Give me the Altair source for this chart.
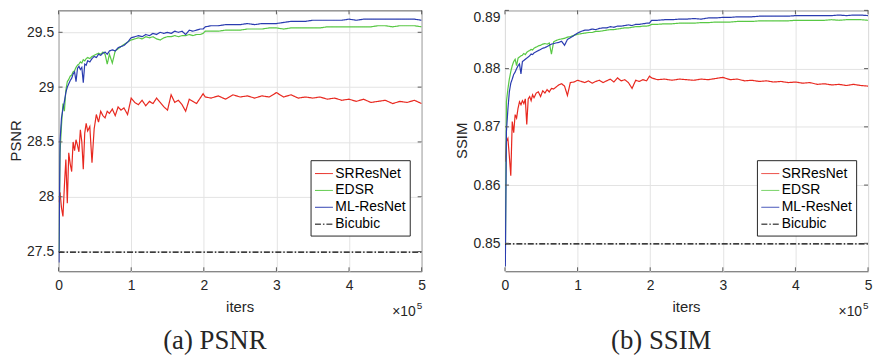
import altair as alt
import pandas as pd

# ---------------- data ----------------
ITERS_K = [0.5, 2, 4, 6, 8, 10, 12, 14, 16, 18, 20, 22, 24, 26, 28, 30, 32, 34, 36, 38, 40,
           43, 46, 49, 52, 55, 58, 61, 64, 67, 70, 74, 78, 82, 86, 90, 95, 100,
           105, 110, 115, 120, 125, 130, 135, 140, 145, 150, 155, 160, 165, 170, 175, 180, 185, 190, 195,
           199, 202,
           210, 220, 230, 240, 250, 260, 270, 280, 290, 300, 310, 320, 330, 340, 350, 360, 370, 380, 390, 400,
           410, 420, 430, 440, 450, 460, 470, 480, 490, 500]

SERIES = ["SRResNet", "EDSR", "ML-ResNet", "Bicubic"]
COLORS = ["#e8281f", "#58c844", "#2a3cb0", "#000000"]

PSNR_SRRESNET = [27.95, 28.04, 27.90, 27.82, 28.10, 28.34, 27.94, 28.40, 28.30, 28.23, 28.50, 28.42, 28.52, 28.47,
                 28.41, 28.61, 28.50, 28.25, 28.58, 28.67, 28.60, 28.64, 28.31, 28.62, 28.75, 28.68, 28.78, 28.74,
                 28.72, 28.78, 28.76, 28.80, 28.74, 28.82, 28.79, 28.81, 28.75, 28.90,
                 28.86, 28.84, 28.88, 28.83, 28.87, 28.85, 28.90, 28.86, 28.82, 28.79, 28.93, 28.86, 28.88, 28.84,
                 28.78, 28.89, 28.87, 28.85, 28.90, 28.94, 28.91,
                 28.90, 28.92, 28.89, 28.93, 28.91, 28.92, 28.90, 28.92, 28.91, 28.95, 28.91, 28.93, 28.90, 28.91,
                 28.90, 28.91, 28.89, 28.90, 28.88, 28.89, 28.87, 28.89, 28.86, 28.87, 28.88, 28.85, 28.87, 28.86,
                 28.88, 28.85]
PSNR_EDSR = [27.50, 28.40, 28.65, 28.85, 28.78, 28.97, 29.05, 29.07, 29.10, 29.11, 29.14, 29.15, 29.18, 29.20,
             29.21, 29.23, 29.22, 29.25, 29.24, 29.26, 29.27, 29.26, 29.28, 29.29, 29.30, 29.31, 29.30, 29.32,
             29.30, 29.21, 29.30, 29.22, 29.33, 29.35, 29.37, 29.39, 29.41, 29.43,
             29.44, 29.45, 29.44, 29.46, 29.45, 29.46, 29.44, 29.43, 29.45, 29.46, 29.46, 29.47, 29.46, 29.47,
             29.47, 29.48, 29.47, 29.48, 29.48, 29.49, 29.51,
             29.51, 29.51, 29.52, 29.52, 29.52, 29.53, 29.53, 29.53, 29.54, 29.54, 29.53, 29.54, 29.54, 29.54,
             29.54, 29.54, 29.55, 29.55, 29.55, 29.55, 29.55, 29.55, 29.55, 29.56, 29.56, 29.55, 29.56, 29.56,
             29.56, 29.55]
PSNR_MLRESNET = [27.40, 28.51, 28.72, 28.80, 28.87, 28.95, 29.00, 29.03, 29.06, 29.08, 29.12, 29.14, 29.05, 29.17,
                 29.19, 29.16, 29.18, 29.04, 29.21, 29.20, 29.24, 29.23, 29.26, 29.28, 29.27, 29.30, 29.29, 29.31,
                 29.32, 29.30, 29.33, 29.34, 29.33, 29.36, 29.37, 29.38, 29.41, 29.45,
                 29.46, 29.47, 29.46, 29.48, 29.47, 29.49, 29.48, 29.50, 29.49, 29.50, 29.49, 29.51, 29.50, 29.51,
                 29.48, 29.52, 29.51, 29.52, 29.53, 29.53, 29.55,
                 29.56, 29.56, 29.57, 29.57, 29.57, 29.58, 29.57, 29.58, 29.58, 29.58, 29.59, 29.60, 29.60, 29.60,
                 29.61, 29.61, 29.61, 29.61, 29.61, 29.62, 29.61, 29.62, 29.62, 29.62, 29.62, 29.62, 29.62, 29.62,
                 29.62, 29.61]
PSNR_BICUBIC = 27.495

SSIM_SRRESNET = [0.8640, 0.8675, 0.8680, 0.8650, 0.8616, 0.8709, 0.8690, 0.8721, 0.8715, 0.8732, 0.8743, 0.8738,
                 0.8745, 0.8740, 0.8748, 0.8704, 0.8748, 0.8752, 0.8745, 0.8755, 0.8750, 0.8758, 0.8760, 0.8752,
                 0.8762, 0.8758, 0.8764, 0.8760, 0.8766, 0.8765, 0.8768, 0.8772, 0.8774, 0.8770, 0.8754, 0.8776,
                 0.8777, 0.8780,
                 0.8778, 0.8776, 0.8779, 0.8775, 0.8778, 0.8780, 0.8776, 0.8779, 0.8782, 0.8777, 0.8784, 0.8779,
                 0.8781, 0.8776, 0.8766, 0.8780, 0.8778, 0.8781, 0.8779, 0.8787, 0.8784,
                 0.8781, 0.8782, 0.8780, 0.8782, 0.8781, 0.8780, 0.8782, 0.8781, 0.8783, 0.8785, 0.8781, 0.8782,
                 0.8779, 0.8780, 0.8778, 0.8779, 0.8777, 0.8778, 0.8776, 0.8777, 0.8775, 0.8776, 0.8773, 0.8774,
                 0.8772, 0.8773, 0.8771, 0.8773, 0.8771, 0.8770]
SSIM_EDSR = [0.8470, 0.8743, 0.8765, 0.8782, 0.8795, 0.8805, 0.8812, 0.8816, 0.8805, 0.8818, 0.8820, 0.8822,
             0.8823, 0.8826, 0.8824, 0.8828, 0.8830, 0.8831, 0.8833, 0.8832, 0.8835, 0.8837, 0.8839, 0.8840,
             0.8842, 0.8843, 0.8842, 0.8844, 0.8825, 0.8846, 0.8848, 0.8850, 0.8851, 0.8852, 0.8854, 0.8855,
             0.8857, 0.8859,
             0.8860, 0.8861, 0.8862, 0.8862, 0.8864, 0.8864, 0.8865, 0.8866, 0.8867, 0.8867, 0.8868, 0.8869,
             0.8870, 0.8870, 0.8871, 0.8872, 0.8872, 0.8873, 0.8873, 0.8874, 0.8876,
             0.8876, 0.8877, 0.8877, 0.8878, 0.8878, 0.8878, 0.8879, 0.8879, 0.8880, 0.8880, 0.8880, 0.8881,
             0.8881, 0.8881, 0.8882, 0.8882, 0.8882, 0.8882, 0.8882, 0.8883, 0.8883, 0.8883, 0.8883, 0.8883,
             0.8884, 0.8883, 0.8884, 0.8884, 0.8884, 0.8883]
SSIM_MLRESNET = [0.8460, 0.8692, 0.8730, 0.8760, 0.8775, 0.8782, 0.8790, 0.8794, 0.8800, 0.8805, 0.8808, 0.8791,
                 0.8812, 0.8814, 0.8816, 0.8818, 0.8820, 0.8822, 0.8825, 0.8824, 0.8827, 0.8829, 0.8831, 0.8833,
                 0.8835, 0.8836, 0.8838, 0.8840, 0.8842, 0.8843, 0.8844, 0.8845, 0.8847, 0.8840, 0.8850, 0.8853,
                 0.8857, 0.8861,
                 0.8864, 0.8866, 0.8866, 0.8868, 0.8867, 0.8869, 0.8870, 0.8870, 0.8872, 0.8871, 0.8873, 0.8873,
                 0.8874, 0.8875, 0.8874, 0.8876, 0.8876, 0.8877, 0.8878, 0.8878, 0.8883,
                 0.8883, 0.8884, 0.8884, 0.8885, 0.8885, 0.8886, 0.8885, 0.8887, 0.8887, 0.8888, 0.8888, 0.8889,
                 0.8889, 0.8889, 0.8890, 0.8890, 0.8890, 0.8890, 0.8890, 0.8891, 0.8891, 0.8891, 0.8891, 0.8891,
                 0.8891, 0.8892, 0.8891, 0.8892, 0.8892, 0.8891]
SSIM_BICUBIC = 0.8499

X_TICKS = [0, 100000, 200000, 300000, 400000, 500000]
X_DOMAIN = [0, 500000]
PSNR_TICKS = [27.5, 28, 28.5, 29, 29.5]
SSIM_TICKS = [0.85, 0.86, 0.87, 0.88, 0.89]
PSNR_DOMAIN = [27.32, 29.70]
SSIM_DOMAIN = [0.8452, 0.8900]

X_TITLE = "iters"
X_EXP_BASE = "×10"
X_EXP = "5"
Y_TITLES = ["PSNR", "SSIM"]
CAPTIONS = ["(a) PSNR", "(b) SSIM"]

# ---------------- layout ----------------
W, H = 366, 263
AX = "#5a5a5a"
TXT = "#262626"
SANS = "Liberation Sans"
SERIF = "Liberation Serif"


def text_layer(s, x, y, size, font=SANS, align="center", baseline="middle", angle=0):
    return alt.Chart(pd.DataFrame({"t": [s]})).mark_text(
        align=align, baseline=baseline, fontSize=size, font=font, angle=angle, color=TXT
    ).encode(x=alt.value(x), y=alt.value(y), text="t:N")


def panel(vals, bic, yticks, ydomain, ytitle, caption, flush_top):
    rows = []
    for name, arr in zip(SERIES[:3], vals):
        for it, v in zip(ITERS_K, arr):
            rows.append({"iters": it * 1000, "value": v, "series": name})
    for it in X_DOMAIN:
        rows.append({"iters": it, "value": bic, "series": "Bicubic"})
    df = pd.DataFrame(rows)

    xs = alt.Scale(domain=X_DOMAIN, nice=False, zero=False)
    ys = alt.Scale(domain=ydomain, nice=False, zero=False)
    xaxis = alt.Axis(values=X_TICKS, labelExpr="datum.value / 100000", title=None,
                     labelFlush=False, labelPadding=7)
    yaxis = alt.Axis(values=yticks, format="~g", title=None, labelFlush=flush_top, labelPadding=5)

    leg = alt.Legend(title=None, orient="none", legendX=254, legendY=151, direction="vertical",
                     strokeColor="#262626", fillColor="white", padding=4, cornerRadius=0,
                     labelFont=SANS, labelFontSize=14, labelColor="#000000", labelOffset=2,
                     symbolType="stroke", symbolSize=324, symbolStrokeWidth=1, rowPadding=0)

    lines = alt.Chart(df).mark_line(strokeWidth=1.2, clip=True).encode(
        x=alt.X("iters:Q", scale=xs, axis=xaxis),
        y=alt.Y("value:Q", scale=ys, axis=yaxis),
        color=alt.Color("series:N", scale=alt.Scale(domain=SERIES, range=COLORS), legend=leg),
        strokeDash=alt.StrokeDash("series:N", scale=alt.Scale(
            domain=SERIES, range=[[1, 0], [1, 0], [1, 0], [6, 2, 1.5, 2]]), legend=leg),
    )

    ydf = pd.DataFrame({"value": yticks})
    xdf = pd.DataFrame({"iters": X_TICKS})
    yt_l = alt.Chart(ydf).mark_rule(color=AX, strokeWidth=1).encode(
        y=alt.Y("value:Q", scale=ys, axis=yaxis), x=alt.value(0), x2=alt.value(4))
    yt_r = alt.Chart(ydf).mark_rule(color=AX, strokeWidth=1).encode(
        y=alt.Y("value:Q", scale=ys, axis=yaxis), x=alt.value(W - 4), x2=alt.value(W))
    xt_b = alt.Chart(xdf).mark_rule(color=AX, strokeWidth=1).encode(
        x=alt.X("iters:Q", scale=xs, axis=xaxis), y=alt.value(H - 4), y2=alt.value(H))
    xt_t = alt.Chart(xdf).mark_rule(color=AX, strokeWidth=1).encode(
        x=alt.X("iters:Q", scale=xs, axis=xaxis), y=alt.value(0), y2=alt.value(4))

    texts = [
        text_layer(ytitle, -43, H / 2, 15, angle=270),
        text_layer(X_TITLE, W / 2, 298.7, 15),
        text_layer(X_EXP_BASE, 360, 303.7, 14, align="right"),
        text_layer(X_EXP, 366.5, 298, 10, align="right"),
        text_layer(caption, 157.5, 341, 27, font=SERIF, baseline="alphabetic"),
    ]
    return alt.layer(lines, yt_l, yt_r, xt_b, xt_t, *texts).properties(width=W, height=H)


left = panel([PSNR_SRRESNET, PSNR_EDSR, PSNR_MLRESNET], PSNR_BICUBIC, PSNR_TICKS, PSNR_DOMAIN,
             Y_TITLES[0], CAPTIONS[0], False)
right = panel([SSIM_SRRESNET, SSIM_EDSR, SSIM_MLRESNET], SSIM_BICUBIC, SSIM_TICKS, SSIM_DOMAIN,
              Y_TITLES[1], CAPTIONS[1], True)

chart = alt.hconcat(left, right, spacing=84, bounds="flush").resolve_scale(
    color="independent", strokeDash="independent", x="independent", y="independent"
).resolve_legend(color="independent", strokeDash="independent").properties(
    padding=0, background="white"
).configure_view(stroke=AX, strokeWidth=1).configure_axis(
    domain=False, ticks=False, grid=True, gridColor="#e3e3e3", gridWidth=1,
    labelFont=SANS, labelFontSize=14, labelColor=TXT
)

chart.save("out.html", embed_options={"renderer": "svg", "actions": False})
